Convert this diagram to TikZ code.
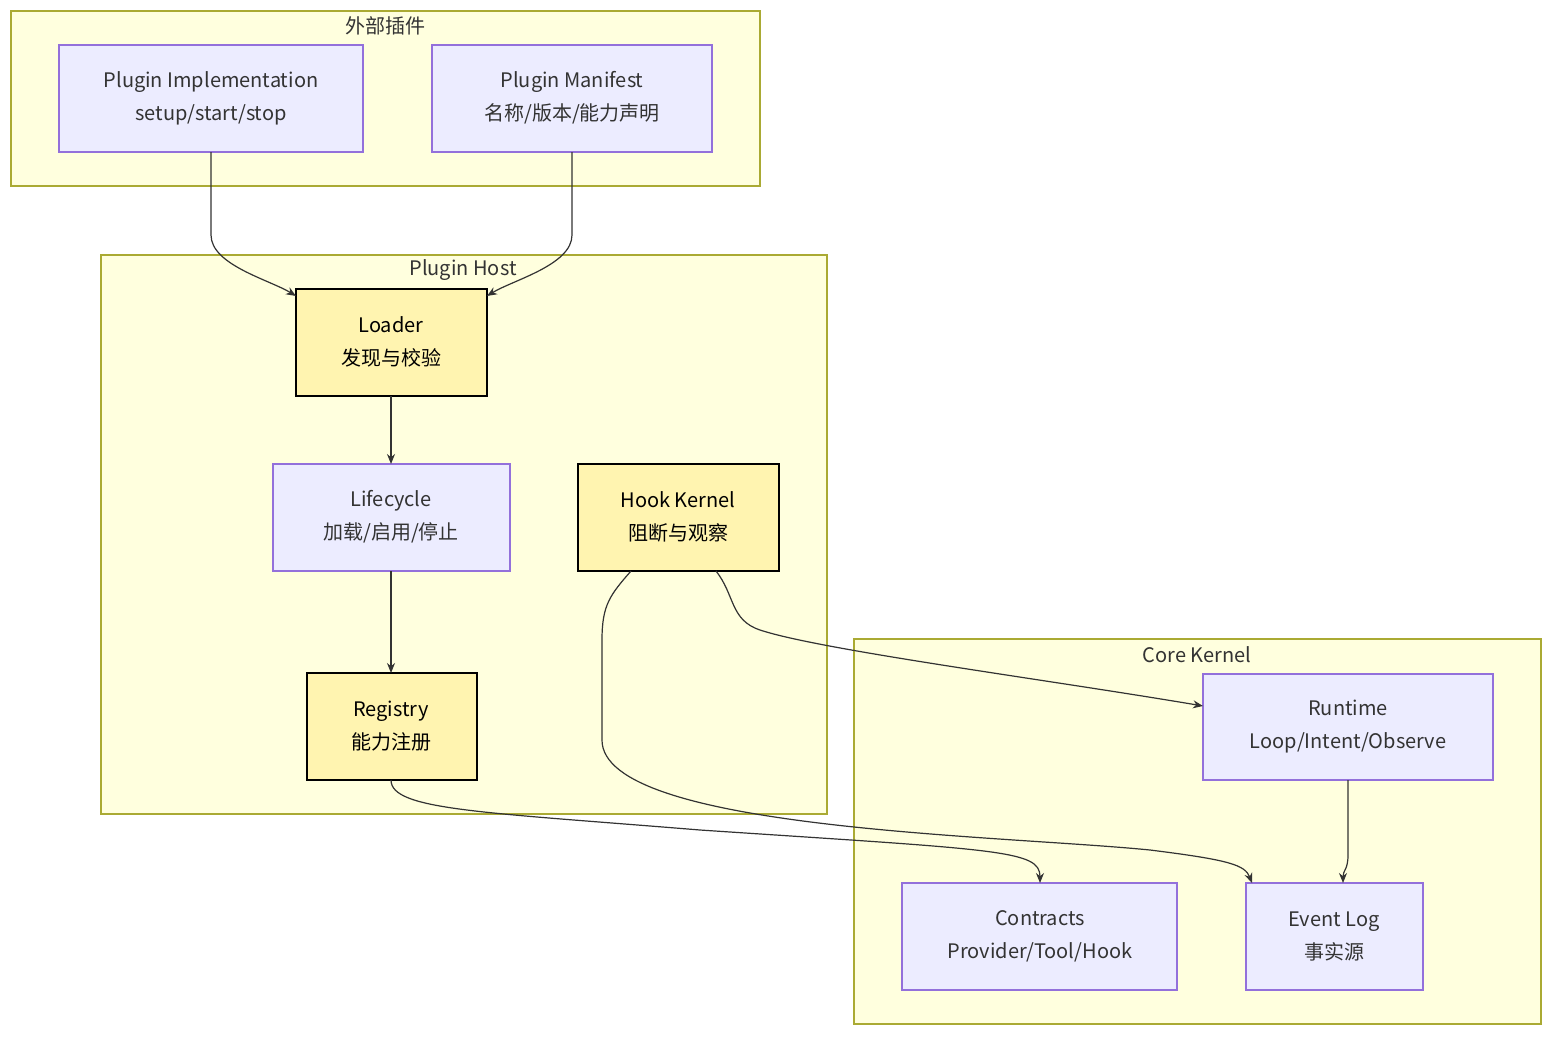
\documentclass[tikz,border=0pt]{standalone}
\usepackage{fontspec}
\setmainfont{Noto Sans CJK SC}
\usetikzlibrary{arrows.meta}
\definecolor{grpfill}{HTML}{FFFFDE}
\definecolor{grpline}{HTML}{AAAA33}
\definecolor{nfill}{HTML}{ECECFF}
\definecolor{nline}{HTML}{9370DB}
\definecolor{hfill}{HTML}{FFF4B0}
\definecolor{ecol}{HTML}{333333}
\begin{document}
\begin{tikzpicture}[x=1pt,y=-1pt,
  grp/.style={draw=grpline,fill=grpfill,line width=1.2pt},
  gtitle/.style={font=\fontsize{20}{24}\selectfont,text=ecol},
  nd/.style={draw=nline,fill=nfill,line width=1.2pt},
  hl/.style={draw=black,fill=hfill,line width=2.2pt},
  lbl/.style={align=center,font=\fontsize{20}{33}\selectfont,text=ecol},
  ed/.style={draw=ecol,line width=1.2pt,-{Stealth[length=10pt,width=8pt]}}]
\useasboundingbox (0,0) rectangle (1568,1046);
\fill[white] (0,0) rectangle (1568,1046);
% groups
\draw[grp] (11,11) rectangle (760,186);
\node[gtitle] (g1) at (385,26) {外部插件};
\draw[grp] (101,255) rectangle (827,814);
\node[gtitle] (g2) at (463,270) {Plugin Host};
\draw[grp] (854,639) rectangle (1541,1024);
\node[gtitle] (g3) at (1197,655) {Core Kernel};
% nodes
\draw[nd] (59,45) rectangle (363,152);
\node[lbl] (impl) at (211,98) {Plugin Implementation\\setup/start/stop};
\draw[nd] (432,45) rectangle (712,152);
\node[lbl] (man) at (572,98) {Plugin Manifest\\名称/版本/能力声明};
\draw[hl] (296,289) rectangle (487,396);
\node[lbl,text=black] (loader) at (391,342) {Loader\\发现与校验};
\draw[nd] (273,464) rectangle (510,571);
\node[lbl] (life) at (391,517) {Lifecycle\\加载/启用/停止};
\draw[hl] (578,464) rectangle (779,571);
\node[lbl,text=black] (hook) at (678,517) {Hook Kernel\\阻断与观察};
\draw[hl] (307,673) rectangle (477,780);
\node[lbl,text=black] (reg) at (391,726) {Registry\\能力注册};
\draw[nd] (1203,674) rectangle (1493,780);
\node[lbl] (rt) at (1348,727) {Runtime\\Loop/Intent/Observe};
\draw[nd] (902,883) rectangle (1177,990);
\node[lbl] (con) at (1040,936) {Contracts\\Provider/Tool/Hook};
\draw[nd] (1246,883) rectangle (1423,990);
\node[lbl] (ev) at (1334,936) {Event Log\\事实源};
% edges
\coordinate (a1) at (211,152); \coordinate (a2) at (296,296);
\draw[ed] (a1) -- (211,235) .. controls (211,265) and (270,280) .. (a2);
\coordinate (b1) at (572,152); \coordinate (b2) at (487,296);
\draw[ed] (b1) -- (572,235) .. controls (572,265) and (513,280) .. (b2);
\coordinate (c1) at (391,396); \coordinate (c2) at (391,464);
\draw[ed] (c1) -- (c2);
\coordinate (d1) at (391,571); \coordinate (d2) at (391,673);
\draw[ed] (d1) -- (d2);
\coordinate (e1) at (631,571); \coordinate (e2) at (1252,883);
\draw[ed] (e1) .. controls (610,595) and (602,605) .. (602,640) -- (602,740)
  .. controls (602,830) and (1000,835) .. (1150,850) .. controls (1230,860) and (1245,865) .. (e2);
\coordinate (f1) at (716,571); \coordinate (f2) at (1203,706);
\draw[ed] (f1) .. controls (735,595) and (730,620) .. (760,630) .. controls (820,650) and (1050,680) .. (f2);
\coordinate (g1a) at (391,780); \coordinate (g2a) at (1040,883);
\draw[ed] (g1a) .. controls (391,810) and (480,812) .. (700,830) .. controls (1000,850) and (1040,850) .. (g2a);
\coordinate (h1) at (1348,780); \coordinate (h2) at (1343,883);
\draw[ed] (h1) -- (1348,855) .. controls (1348,870) and (1343,870) .. (h2);
\end{tikzpicture}
\end{document}
